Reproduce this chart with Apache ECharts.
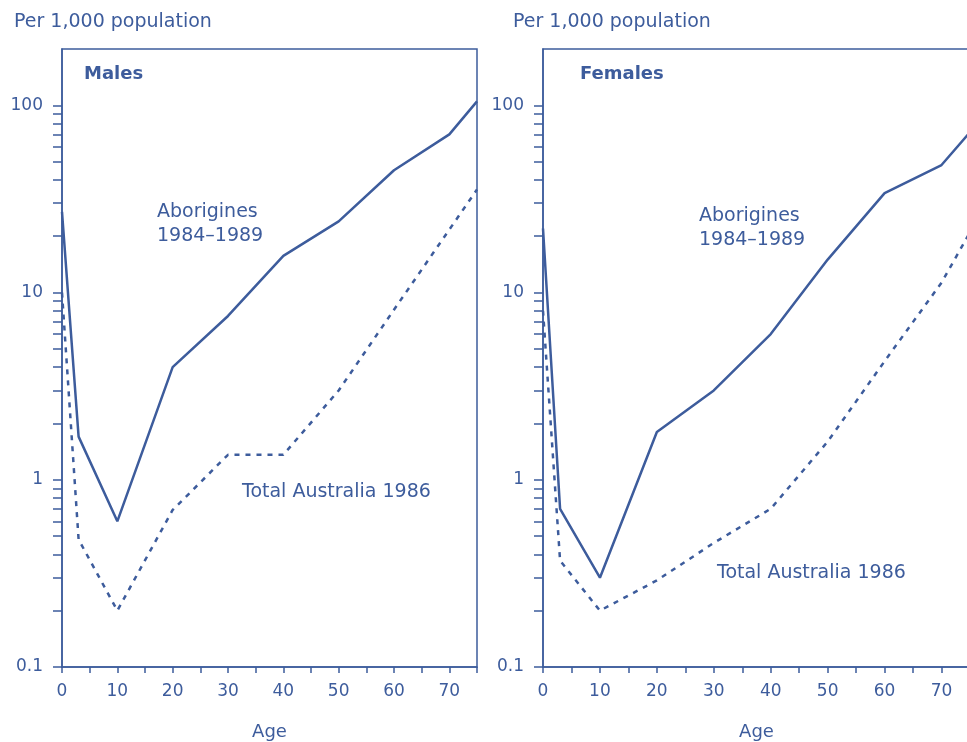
<!DOCTYPE html>
<html>
<head>
<meta charset="utf-8">
<script src="https://cdn.jsdelivr.net/npm/echarts@6/dist/echarts.min.js"></script>
<style>
  html, body { margin: 0; padding: 0; background: #fff; }
  #main { width: 967px; height: 742px; }
</style>
</head>
<body>
<div id="main"></div>
<script>
// ages at which the rates are plotted
const ages = [0, 3, 10, 20, 30, 40, 50, 60, 70, 75]

// deaths per 1,000 population
const maleAborigines = [27, 1.7, 0.6, 4, 7.5, 15.7, 24, 45, 70, 105]
const maleTotal = [10, 0.48, 0.2, 0.69, 1.36, 1.36, 3.0, 8.1, 21.7, 35.5]
const femaleAborigines = [22, 0.7, 0.3, 1.8, 3.0, 6, 15, 34, 48, 72]
const femaleTotal = [8, 0.37, 0.2, 0.29, 0.46, 0.7, 1.6, 4.3, 11.3, 21]

// tick labels
const yLabels = [0.1, 1, 10, 100]
const yTicks = [0.1, 0.2, 0.3, 0.4, 0.5, 0.6, 0.7, 0.8, 0.9,
                1, 2, 3, 4, 5, 6, 7, 8, 9,
                10, 20, 30, 40, 50, 60, 70, 80, 90, 100]

const blue = '#3d5c9c'
const font = 'DejaVu Sans, sans-serif'

const pairs = (xs, ys) => xs.map((x, i) => [x, ys[i]])

const xAxisOf = (gridIndex) => ({
    type: 'value',
    gridIndex: gridIndex,
    min: 0,
    max: 75,
    interval: 5,
    name: 'Age',
    nameLocation: 'middle',
    nameGap: 56,
    nameTextStyle: {color: blue, fontSize: 18, fontFamily: font},
    axisLine: {show: true, lineStyle: {color: blue, width: 1.5}},
    axisTick: {show: true, length: 6, lineStyle: {color: blue, width: 1.5}},
    axisLabel: {
        color: blue, fontSize: 17, fontFamily: font, margin: 16,
        formatter: v => (v % 10 === 0 ? String(v) : '')
    },
    splitLine: {show: false}
})

const yAxisOf = (gridIndex) => ({
    type: 'log',
    logBase: 10,
    gridIndex: gridIndex,
    min: 0.1,
    max: 200,
    axisLine: {show: true, lineStyle: {color: blue, width: 1.5}},
    axisTick: {show: true, length: 9, customValues: yTicks, lineStyle: {color: blue, width: 1.5}},
    axisLabel: {
        color: blue, fontSize: 17, fontFamily: font, margin: 19,
        customValues: yLabels,
        formatter: v => String(v)
    },
    splitLine: {show: false}
})

const solid = (name, idx, data) => ({
    name: name, type: 'line', xAxisIndex: idx, yAxisIndex: idx,
    data: data, symbol: 'none', silent: true,
    lineStyle: {color: blue, width: 2.5}
})
const dashed = (name, idx, data) => ({
    name: name, type: 'line', xAxisIndex: idx, yAxisIndex: idx,
    data: data, symbol: 'none', silent: true,
    lineStyle: {color: blue, width: 2.5, type: [5, 6]}
})

const label = (x, y, text, bold) => ({
    type: 'text', left: x, top: y,
    style: {
        text: text, fill: blue, fontSize: bold ? 18 : 19, fontFamily: font,
        fontWeight: bold ? 'bold' : 'normal', lineHeight: 24
    }
})

const myChart = echarts.init(document.getElementById('main'), null, {renderer: 'canvas'})

myChart.setOption({
    animation: false,
    backgroundColor: '#ffffff',
    grid: [
        {left: 62, right: 490, top: 49, bottom: 75, outerBoundsMode: 'none',
         show: true, borderColor: blue, borderWidth: 1.5},
        {left: 543, right: -3, top: 49, bottom: 75, outerBoundsMode: 'none',
         show: true, borderColor: blue, borderWidth: 1.5}
    ],
    xAxis: [xAxisOf(0), xAxisOf(1)],
    yAxis: [yAxisOf(0), yAxisOf(1)],
    series: [
        solid('Aborigines 1984–1989 (males)', 0, pairs(ages, maleAborigines)),
        dashed('Total Australia 1986 (males)', 0, pairs(ages, maleTotal)),
        solid('Aborigines 1984–1989 (females)', 1, pairs(ages, femaleAborigines)),
        dashed('Total Australia 1986 (females)', 1, pairs(ages, femaleTotal))
    ],
    graphic: [
        label(14, 10, 'Per 1,000 population'),
        label(513, 10, 'Per 1,000 population'),
        label(84, 62, 'Males', true),
        label(580, 62, 'Females', true),
        label(157, 200, 'Aborigines\n1984–1989'),
        label(699, 204, 'Aborigines\n1984–1989'),
        label(242, 480, 'Total Australia 1986'),
        label(717, 561, 'Total Australia 1986')
    ]
})
</script>
</body>
</html>
